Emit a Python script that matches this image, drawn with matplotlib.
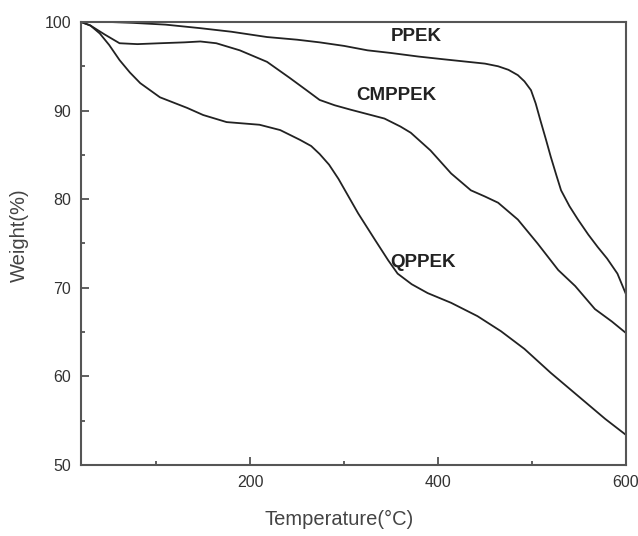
import matplotlib
matplotlib.use('Agg')
import matplotlib.pyplot as plt
import matplotlib.transforms as mtransforms
from matplotlib.ticker import MultipleLocator

plt.rcParams['font.family'] = ['Liberation Sans', 'DejaVu Sans']

# TGA curves (temperature in C, weight in %)
t_ppek = [20, 50, 75, 110, 147, 180, 218, 250, 274, 300, 325, 350, 379, 405, 432, 450,
          464, 475, 485, 492, 499, 504, 509, 515, 520, 526, 531, 540, 549, 560, 570, 580, 591, 600]
w_ppek = [100, 100, 99.9, 99.7, 99.3, 98.9, 98.3, 98.0, 97.7, 97.3, 96.8, 96.5, 96.1, 95.8, 95.5, 95.3,
          95.0, 94.6, 94.0, 93.3, 92.3, 90.8, 88.9, 86.7, 84.8, 82.7, 81.0, 79.2, 77.7, 76.0, 74.6, 73.3, 71.6, 69.3]

t_cm = [20, 30, 45, 61, 80, 104, 130, 147, 164, 189, 218, 242, 260, 274, 290, 307, 325, 343, 360, 371,
        392, 414, 435, 450, 464, 485, 506, 528, 546, 567, 585, 600]
w_cm = [100, 99.6, 98.6, 97.6, 97.5, 97.6, 97.7, 97.8, 97.6, 96.8, 95.5, 93.7, 92.3, 91.2, 90.6, 90.1, 89.6, 89.1, 88.2, 87.5,
        85.5, 82.9, 81.0, 80.3, 79.6, 77.7, 75.0, 72.0, 70.2, 67.6, 66.2, 64.9]

t_q = [20, 30, 40, 50, 61, 72, 83, 104, 133, 150, 175, 210, 232, 253, 265, 274, 284, 294, 315, 333, 347, 357,
       372, 389, 414, 442, 467, 492, 520, 549, 578, 600]
w_q = [100, 99.6, 98.7, 97.4, 95.7, 94.3, 93.1, 91.5, 90.3, 89.5, 88.7, 88.4, 87.8, 86.7, 86.0, 85.1, 83.9, 82.3, 78.4, 75.4, 73.1, 71.6,
       70.4, 69.4, 68.3, 66.8, 65.1, 63.1, 60.4, 57.8, 55.2, 53.4]

labels = ['PPEK', 'CMPPEK', 'QPPEK']
label_pos = [(377, 98.4), (356, 91.7), (384, 72.9)]

fig = plt.figure(figsize=(6.38, 5.36), dpi=100)
ax = fig.add_axes([0.127, 0.1325, 0.854, 0.8265])

line_col = '#222222'
for t, w in [(t_ppek, w_ppek), (t_cm, w_cm), (t_q, w_q)]:
    ax.plot(t, w, color=line_col, lw=1.3)

for name, (x, y) in zip(labels, label_pos):
    ax.text(x, y, name, ha='center', va='center', fontsize=13.5,
            fontweight='bold', color='#222222')

ax.set_xlim(20, 600)
ax.set_ylim(50, 100)
ax.xaxis.set_major_locator(MultipleLocator(200))
ax.xaxis.set_minor_locator(MultipleLocator(100))
ax.yaxis.set_major_locator(MultipleLocator(10))
ax.yaxis.set_minor_locator(MultipleLocator(5))
ax.tick_params(which='both', direction='in', colors='#444444', labelcolor='#333333',
               labelsize=11.5, width=1.2)
ax.tick_params(which='major', length=6, pad=7)
ax.tick_params(which='minor', length=3)
for s in ax.spines.values():
    s.set_color('#555555')
    s.set_linewidth(1.5)

# the last x tick label sits right at the figure edge, nudge it in a bit
fig.canvas.draw()
shift = mtransforms.ScaledTranslation(-3 / 72, 0, fig.dpi_scale_trans)
last = ax.get_xticklabels()[-1]
last.set_transform(last.get_transform() + shift)

ax.set_xlabel('Temperature(°C)', fontsize=14.5, color='#444444', va='center')
ax.xaxis.set_label_coords(0.473, -0.124)
ax.set_ylabel('Weight(%)', fontsize=14.5, color='#444444', va='center')
ax.yaxis.set_label_coords(-0.114, 0.519)

fig.savefig('out.png', dpi=100)
